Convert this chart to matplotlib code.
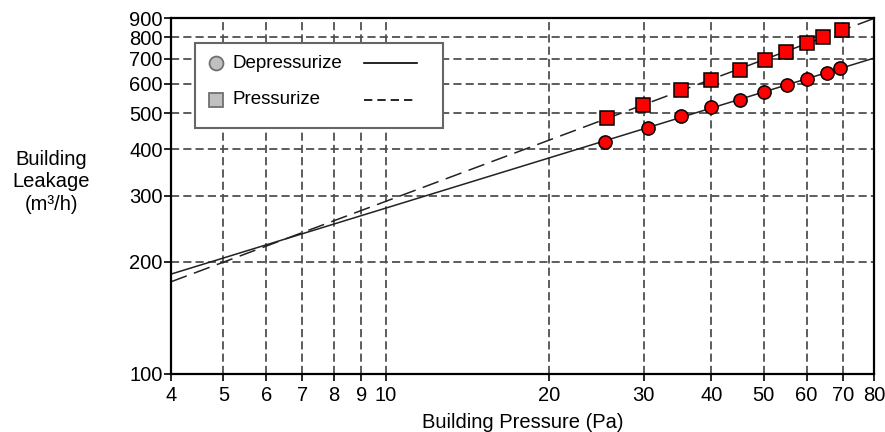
import numpy as np
import matplotlib
matplotlib.use("Agg")
import matplotlib.pyplot as plt
from matplotlib.patches import Rectangle
from matplotlib.lines import Line2D

plt.rcParams["font.family"] = ["Liberation Sans", "DejaVu Sans"]

# measured points (Pa, m3/h)
depress_p = [25.4, 30.5, 35.2, 40.0, 45.1, 50.1, 55.3, 60.2, 65.5, 69.3]
depress_q = [419, 457, 492, 520, 543, 570, 595, 618, 641, 661]
press_p = [25.6, 29.9, 35.2, 40.0, 45.1, 50.3, 55.0, 60.0, 64.4, 69.8]
press_q = [486, 526, 577, 614, 653, 695, 730, 772, 801, 836]

x_ticks = [4, 5, 6, 7, 8, 9, 10, 20, 30, 40, 50, 60, 70, 80]
y_ticks = [100, 200, 300, 400, 500, 600, 700, 800, 900]

GRID = "#505050"
RED = "#ff0000"

fig = plt.figure(figsize=(8.85, 4.32), dpi=100)
ax = fig.add_axes([0.1932, 0.1343, 0.7944, 0.8240])
ax.set_xscale("log")
ax.set_yscale("log")
ax.set_xlim(4, 80)
ax.set_ylim(100, 900)

# dashed grid
for x in x_ticks[1:-1]:
    ax.axvline(x, color=GRID, lw=1.3, dashes=(4.5, 2.3), zorder=1)
for y in y_ticks[1:]:
    ax.axhline(y, color=GRID, lw=1.3, dashes=(4.5, 2.3), zorder=1)

# power-law fits in log space
xs = np.array([4.0, 80.0])
n1, c1 = np.polyfit(np.log10(depress_p), np.log10(depress_q), 1)
n2, c2 = np.polyfit(np.log10(press_p), np.log10(press_q), 1)
ax.plot(xs, 10 ** (c1 + n1 * np.log10(xs)), color="#222222", lw=1.1, zorder=2)
ax.plot(xs, 10 ** (c2 + n2 * np.log10(xs)), color="#222222", lw=1.1,
        dashes=(11, 5), zorder=2)

ax.plot(depress_p, depress_q, "o", ms=9.5, mfc=RED, mec="black", mew=1.1,
        ls="none", zorder=4)
ax.plot(press_p, press_q, "s", ms=9.5, mfc=RED, mec="black", mew=1.1,
        ls="none", zorder=4)

ax.xaxis.set_major_locator(matplotlib.ticker.FixedLocator(x_ticks))
ax.xaxis.set_minor_locator(matplotlib.ticker.NullLocator())
ax.xaxis.set_major_formatter(matplotlib.ticker.FixedFormatter([str(v) for v in x_ticks]))
ax.yaxis.set_major_locator(matplotlib.ticker.FixedLocator(y_ticks))
ax.yaxis.set_minor_locator(matplotlib.ticker.NullLocator())
ax.yaxis.set_major_formatter(matplotlib.ticker.FixedFormatter([str(v) for v in y_ticks]))
ax.tick_params(direction="out", length=5, width=1.2, labelsize=14.5, pad=1,
               colors="black")
ax.tick_params(axis="x", pad=4)

for s in ax.spines.values():
    s.set_linewidth(1.6)
    s.set_color("black")

ax.set_xlabel("Building Pressure (Pa)", fontsize=14.5, va="center")
ax.xaxis.set_label_coords(0.5, -0.135)
fig.text(0.058, 0.579, "Building\nLeakage\n(m³/h)", ha="center", va="center",
         fontsize=14.5, linespacing=1.25)

# legend box drawn by hand (marker, label, line sample)
def px(x, y):
    return x / 885, 1 - y / 432

lx, ly = px(195, 128)
rx, ry = px(443, 43)
fig.patches.append(Rectangle((lx, ly), rx - lx, ry - ly, transform=fig.transFigure,
                             facecolor="white", edgecolor="#666666", lw=1.5,
                             zorder=5))
for yy, mk, lab, dash in [(63, "o", "Depressurize", None), (100, "s", "Pressurize", (5, 3))]:
    mx, my = px(216, yy)
    fig.add_artist(Line2D([mx], [my], marker=mk, ms=10, mfc="#c0c0c0", mec="#707070",
                          mew=1.3, ls="none", transform=fig.transFigure, zorder=6))
    tx, ty = px(233, yy)
    fig.text(tx, ty, lab, ha="left", va="center", fontsize=13.5, zorder=6)
    a, b = px(364, yy)
    c, _ = px(417, yy)
    ln = Line2D([a, c], [b, b], color="black", lw=1.2, transform=fig.transFigure,
                zorder=6)
    if dash:
        ln.set_dashes(dash)
    fig.add_artist(ln)

fig.savefig("out.png", dpi=100)
